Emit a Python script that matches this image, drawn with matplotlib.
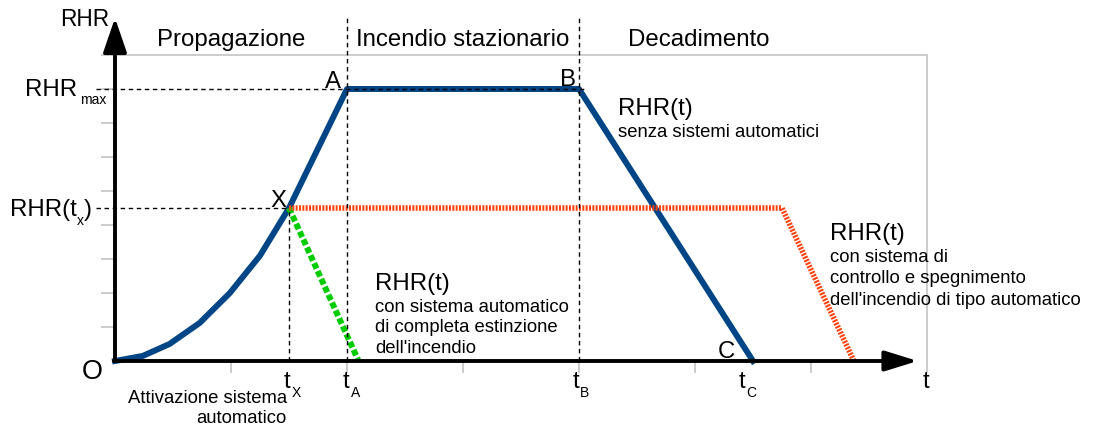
import matplotlib
matplotlib.use("Agg")
import matplotlib.pyplot as plt

plt.rcParams['font.family'] = ['Liberation Sans', 'DejaVu Sans']

# curva senza sistemi automatici (O - X - A - B - C)
t_blue = [0, 0.24, 0.47, 0.73, 0.99, 1.25, 1.5, 2.0, 4.0, 5.5]
rhr_blue = [0, 0.15, 0.5, 1.12, 2.0, 3.1, 4.5, 8.0, 8.0, 0]
# estinzione completa
t_green = [1.5, 2.1]
rhr_green = [4.5, 0]
# controllo e spegnimento automatico
t_orange = [1.5, 5.75, 6.37]
rhr_orange = [4.5, 4.5, 0]

t_X, t_A, t_B, t_C = 1.5, 2.0, 4.0, 5.5
rhr_max, rhr_tx = 8.0, 4.5

t_ticks = [1, 2, 3, 4, 5, 6]
rhr_ticks = [1, 2, 3, 4, 5, 6, 7, 8]
t_end, rhr_end = 7, 9

phases = ["Propagazione", "Incendio stazionario", "Decadimento"]
phase_x = [1.0, 3.0, 5.03]

t_names = ["X", "A", "B", "C"]
t_vals = [t_X, t_A, t_B, t_C]
t_dx = [0.01, 0.02, 0.0, -0.07]

BLUE = "#004586"
GREEN = "#00cc00"
ORANGE = "#ff420e"
GRAY = "#cccccc"

BIG = 17.3
SMALL = 13.3
SUB = 10

fig = plt.figure(figsize=(10.93, 4.28), dpi=100)
ax = fig.add_axes([0, 0, 1, 1])
ax.set_xlim(-115 / 116, (1093 - 115) / 116)
ax.set_ylim((361 - 428) / 34, 361 / 34)
ax.axis('off')

# cornice grigia e tacche
ax.plot([-0.11, t_end], [rhr_end, rhr_end], color=GRAY, lw=1.4, zorder=1)
ax.plot([t_end, t_end], [rhr_end, -0.33], color=GRAY, lw=1.4, zorder=1)
for v in rhr_ticks:
    ax.plot([-0.11, 0], [v, v], color=GRAY, lw=1.4, zorder=1)
for v in t_ticks:
    ax.plot([v, v], [0, -0.33], color=GRAY, lw=1.4, zorder=1)

# assi con frecce
ax.annotate('', xy=(0, 10.09), xytext=(0, 0),
            arrowprops=dict(arrowstyle='-|>,head_length=2.1,head_width=0.72',
                            mutation_scale=10, lw=2.8, color='black',
                            shrinkA=0, shrinkB=0), zorder=6)
ax.annotate('', xy=(6.92, 0), xytext=(-0.01, 0),
            arrowprops=dict(arrowstyle='-|>,head_length=2.0,head_width=0.62',
                            mutation_scale=10, lw=2.8, color='black',
                            shrinkA=0, shrinkB=0), zorder=6)

# curve
ax.plot(t_blue, rhr_blue, color=BLUE, lw=4.3, zorder=3)
ax.plot(t_green, rhr_green, color=GREEN, lw=4.3, ls=(0, (1.0, 0.45)),
        dash_capstyle='butt', zorder=4)
ax.plot(t_orange, rhr_orange, color=ORANGE, lw=4.0, ls=(0, (0.36, 0.24)),
        dash_capstyle='butt', zorder=4)

# linee tratteggiate di riferimento
dash = dict(color='black', lw=1.0, ls=(0, (3.2, 2.6)), zorder=5)
ax.plot([-0.16, t_B + 0.06], [rhr_max, rhr_max], **dash)
ax.plot([-0.16, t_X], [rhr_tx, rhr_tx], **dash)
ax.plot([t_X, t_X], [0, rhr_tx], **dash)
ax.plot([t_A, t_A], [0, 10.1], **dash)
ax.plot([t_B, t_B], [0, 10.1], **dash)

# etichette assi
ax.text(-0.26, 10.05, "RHR", fontsize=16.3, ha='center', va='center')
ax.text(6.99, -0.79, "t", fontsize=BIG, ha='center', va='baseline')
ax.text(-0.2, -0.33, "O", fontsize=19.4, ha='center', va='center')

for name, x in zip(phases, phase_x):
    ax.text(x, 9.45, name, fontsize=BIG, ha='center', va='center')

ax.text(-0.33, 7.79, "RHR", fontsize=BIG, ha='right', va='baseline')
ax.text(-0.30, 7.56, "max", fontsize=SUB, ha='left', va='baseline')
ax.text(-0.328, 4.26, "RHR(t", fontsize=BIG, ha='right', va='baseline')
ax.text(-0.328, 4.0, "x", fontsize=SUB, ha='left', va='baseline')
ax.text(-0.27, 4.26, ")", fontsize=BIG, ha='left', va='baseline')

# punti notevoli
ax.text(t_A - 0.05, rhr_max + 0.03, "A", fontsize=BIG, ha='right', va='baseline')
ax.text(t_B - 0.03, rhr_max + 0.1, "B", fontsize=BIG, ha='right', va='baseline')
ax.text(t_X - 0.02, rhr_tx + 0.03, "X", fontsize=BIG, ha='right', va='baseline')
ax.text(t_C - 0.155, 0.09, "C", fontsize=BIG, ha='right', va='baseline')

for name, x, dx in zip(t_names, t_vals, t_dx):
    ax.text(x + dx, -0.79, "t", fontsize=BIG, ha='right', va='baseline')
    ax.text(x + dx + 0.01, -1.06, name, fontsize=SUB, ha='left', va='baseline')

ax.text(t_X - 0.02, -1.24, "Attivazione sistema", fontsize=SMALL,
        ha='right', va='baseline')
ax.text(t_X - 0.02, -1.82, "automatico", fontsize=SMALL,
        ha='right', va='baseline')

# descrizioni delle curve
def label(x, y, lines, step=0.6):
    ax.text(x, y, "RHR(t)", fontsize=BIG, ha='left', va='baseline')
    y0 = y - 0.65
    for i, s in enumerate(lines):
        ax.text(x, y0 - i * step, s, fontsize=SMALL, ha='left', va='baseline')

label(4.336, 7.24, ["senza sistemi automatici"])
label(2.24, 2.09, ["con sistema automatico", "di completa estinzione",
                   "dell'incendio"])
label(6.164, 3.56, ["con sistema di", "controllo e spegnimento",
                    "dell'incendio di tipo automatico"], step=0.63)

fig.savefig("out.png", dpi=100)
